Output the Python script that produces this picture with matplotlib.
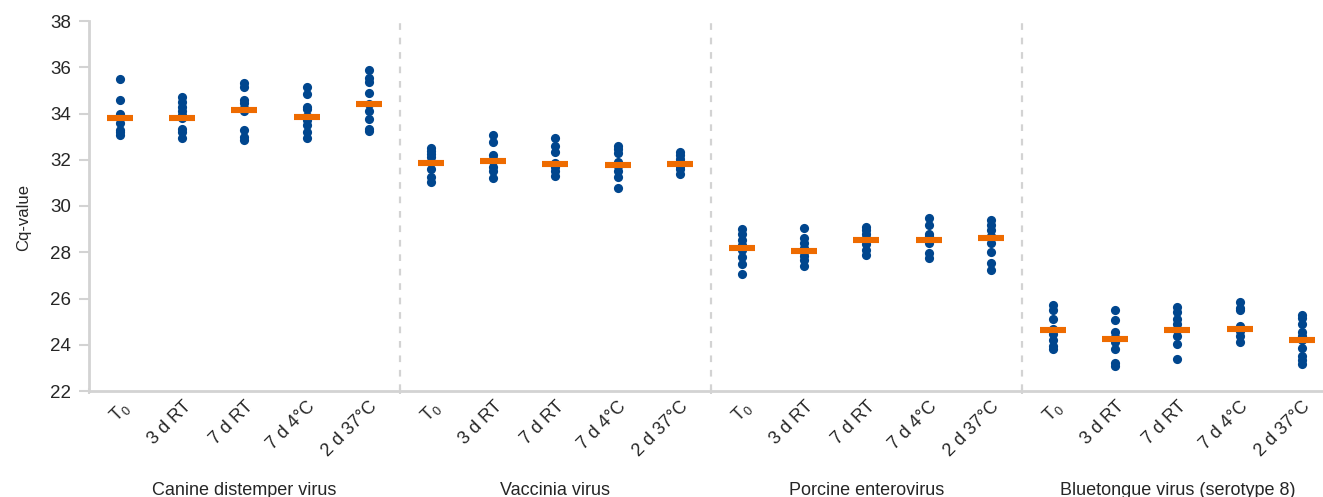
import numpy as np
import matplotlib
matplotlib.use('Agg')
import matplotlib.pyplot as plt

plt.rcParams['font.family'] = ['Liberation Sans', 'DejaVu Sans']
plt.rcParams['mathtext.fontset'] = 'custom'
plt.rcParams['mathtext.rm'] = 'Liberation Sans'

# viruses and storage conditions
viruses = ['Canine distemper virus', 'Vaccinia virus', 'Porcine enterovirus',
           'Bluetongue virus (serotype 8)']
conditions = [r'T$_\mathrm{0}$', '3 d RT', '7 d RT', '7 d 4°C', '2 d 37°C']

# Cq replicates per condition
canine = [
    [35.5, 34.6, 34.0, 33.9, 33.6, 33.3, 33.2, 33.05],
    [34.7, 34.5, 34.3, 34.1, 33.95, 33.8, 33.35, 33.2, 32.95],
    [35.3, 35.15, 34.6, 34.45, 34.25, 34.1, 33.3, 33.0, 32.85],
    [35.15, 34.85, 34.3, 34.2, 33.9, 33.7, 33.5, 33.2, 32.95],
    [35.9, 35.55, 35.35, 34.9, 34.4, 34.1, 33.75, 33.35, 33.25],
]
vaccinia = [
    [32.5, 32.4, 32.25, 32.1, 31.9, 31.6, 31.25, 31.05],
    [33.05, 32.75, 32.2, 32.05, 31.95, 31.7, 31.5, 31.2],
    [32.95, 32.6, 32.35, 31.85, 31.7, 31.5, 31.3],
    [32.6, 32.45, 32.3, 31.9, 31.75, 31.5, 31.25, 30.8],
    [32.35, 32.2, 32.05, 31.9, 31.75, 31.6, 31.4],
]
porcine = [
    [29.0, 28.8, 28.55, 28.3, 28.1, 27.8, 27.5, 27.05],
    [29.05, 28.6, 28.4, 28.2, 28.0, 27.85, 27.65, 27.4],
    [29.1, 28.95, 28.8, 28.6, 28.35, 28.1, 27.9],
    [29.5, 29.2, 28.8, 28.7, 28.4, 27.95, 27.75],
    [29.4, 29.2, 28.95, 28.7, 28.4, 28.0, 27.55, 27.25],
]
bluetongue = [
    [25.7, 25.5, 25.1, 24.7, 24.45, 24.2, 23.95, 23.8],
    [25.5, 25.05, 24.55, 24.35, 24.1, 23.8, 23.2, 23.1],
    [25.65, 25.4, 25.1, 24.9, 24.65, 24.4, 24.05, 23.4],
    [25.85, 25.6, 25.5, 24.8, 24.6, 24.4, 24.1],
    [25.3, 25.15, 24.9, 24.55, 24.4, 24.2, 23.85, 23.5, 23.35, 23.15],
]

# mean Cq per condition (orange bars)
canine_mean = [33.82, 33.82, 34.15, 33.87, 34.39]
vaccinia_mean = [31.87, 31.96, 31.83, 31.78, 31.83]
porcine_mean = [28.2, 28.06, 28.53, 28.53, 28.63]
bluetongue_mean = [24.64, 24.25, 24.64, 24.69, 24.2]

groups = [canine, vaccinia, porcine, bluetongue]
means = [canine_mean, vaccinia_mean, porcine_mean, bluetongue_mean]

blue = '#00468E'
orange = '#EE6B00'
grey = '#D3D3D3'
txt = '#262626'

fig = plt.figure(figsize=(13.23, 4.97), dpi=100)
ax = fig.add_axes([89 / 1323, 106 / 497, 1 - 89 / 1323, 370 / 497])

ncond = len(conditions)
for g, (reps, mvals) in enumerate(zip(groups, means)):
    for c, vals in enumerate(reps):
        x = g * ncond + c
        ax.plot([x] * len(vals), vals, 'o', color=blue, ms=6.6, mew=0, zorder=3)
        ax.plot([x], [mvals[c]], marker='_', color=orange, ms=19, mew=4.4, zorder=4)

# dashed separators between viruses
for g in range(1, len(groups)):
    ax.plot([g * ncond - 0.5] * 2, [22, 38.2], ls=(0, (3, 3.5)), lw=1.6, color=grey,
            clip_on=False, zorder=1)

ax.set_xlim(-0.5, 19.34)
ax.set_ylim(22, 38)
ax.set_yticks(np.arange(22, 39, 2))
ax.set_ylabel('Cq-value', fontsize=12, color=txt)
ax.yaxis.set_label_coords(-0.047, 0.47)

# ticks at group borders, labels at categories
ax.set_xticks([g * ncond - 0.5 for g in range(len(groups))])
ax.set_xticklabels([])
ax.set_xticks(np.arange(len(groups) * ncond), minor=True)
ax.set_xticklabels(conditions * len(groups), minor=True, rotation=45, ha='right',
                   va='top', rotation_mode='anchor', fontsize=13, color=txt)
ax.tick_params(axis='x', which='minor', length=0, pad=5)
ax.tick_params(axis='x', which='major', length=5, width=1.5, color=grey, direction='inout')
ax.tick_params(axis='y', length=7, width=1.5, color=grey, labelsize=13.5, labelcolor=txt, pad=6)

for s in ['top', 'right']:
    ax.spines[s].set_visible(False)
for s in ['left', 'bottom']:
    ax.spines[s].set_color(grey)
    ax.spines[s].set_linewidth(2)

for g, name in enumerate(viruses):
    ax.text(g * ncond + 2, -0.27, name, transform=ax.get_xaxis_transform(),
            ha='center', va='center', fontsize=13, color=txt)

fig.savefig('out.png', dpi=100)
